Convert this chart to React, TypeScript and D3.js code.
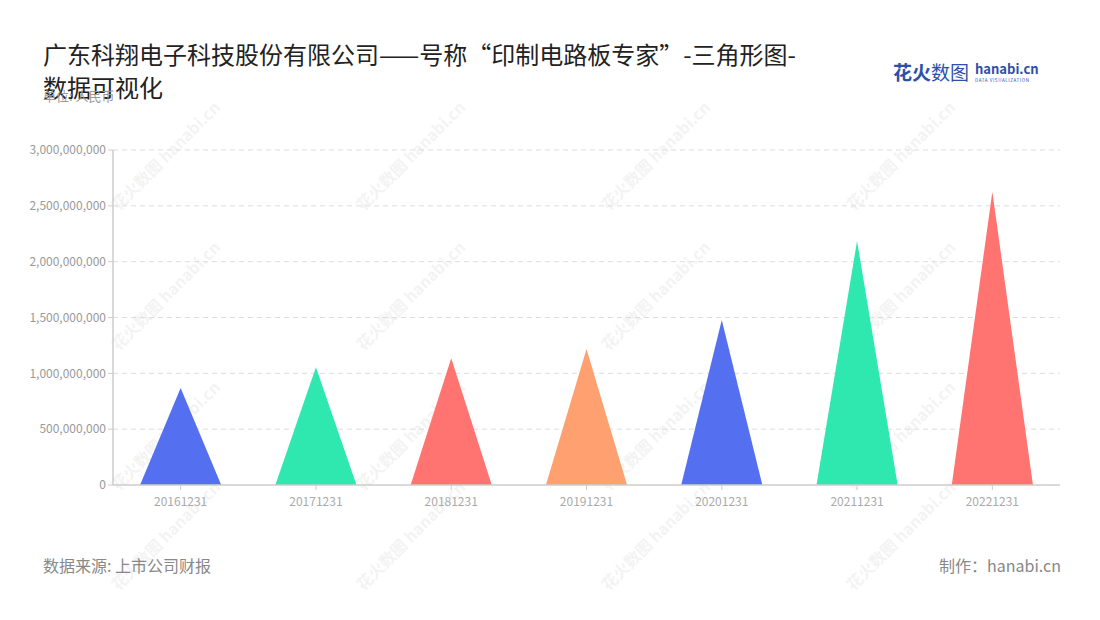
import React from "react";
import * as d3 from "d3";

const categories = ["20161231", "20171231", "20181231", "20191231", "20201231", "20211231", "20221231"];
const values = [869000000, 1054000000, 1135000000, 1218000000, 1478000000, 2185000000, 2627000000];
const colors = ["#5470f0", "#2ee8b0", "#ff7370", "#ffa070", "#5470f0", "#2ee8b0", "#ff7370"];
const yTicks = [0, 500000000, 1000000000, 1500000000, 2000000000, 2500000000, 3000000000];

const W = 1100, H = 620;
const left = 113, right = 1060, top = 150, bottom = 485;
const FONT = "'Noto Sans CJK SC', 'Noto Sans', sans-serif";

export default function App() {
  const x = d3.scaleBand<string>().domain(categories).range([left, right]).padding(0);
  const y = d3.scaleLinear().domain([0, 3000000000]).range([bottom, top]);
  const fmt = d3.format(",");
  const hw = x.bandwidth() * 0.3;

  const wmXs = [170, 415, 660, 905];
  const wmYs = [160, 300, 440, 540];

  return (
    <svg width={W} height={H} style={{ display: "block", position: "absolute", left: 0, top: 0 }} fontFamily={FONT}>
      <rect width={W} height={H} fill="#fff" />
      {/* watermarks */}
      {wmYs.map((wy, i) =>
        wmXs.map((wx, j) => (
          <g key={`wm${i}-${j}`} transform={`translate(${wx},${wy}) rotate(-45)`} opacity={0.045}>
            <text x={0} y={0} fontSize={16} fontWeight={700} fill="#000" textAnchor="middle">花火数图 hanabi.cn</text>
          </g>
        ))
      )}
      {/* title */}
      <text x={43} y={64} fontSize={24} fill="#222">广东科翔电子科技股份有限公司——号称“印制电路板专家”-三角形图-</text>
      <text x={43} y={97} fontSize={24} fill="#222">数据可视化</text>
      <text x={43} y={101} fontSize={13} fill="#999">单位: 人民币</text>
      {/* logo */}
      <text x={893} y={80} fontSize={19} fontWeight={700} fill="#2d4fa8">花火<tspan fontWeight={400}>数图</tspan></text>
      <text x={975} y={74} fontSize={13} fontWeight={700} fill="#2d4fa8">hanabi.cn</text>
      <text x={975} y={81.5} fontSize={4.5} fill="#2d4fa8" letterSpacing={0.6}>DATA VISUALIZATION</text>
      {/* grid */}
      {yTicks.map((t) => (
        <g key={t}>
          {t > 0 && (
            <line x1={left} x2={right} y1={y(t)} y2={y(t)} stroke="#ddd" strokeDasharray="5,4" />
          )}
          <line x1={left - 5} x2={left} y1={y(t)} y2={y(t)} stroke="#ccc" />
          <text x={left - 7} y={y(t)} dy="0.35em" fontSize={12} fill="#999" textAnchor="end">{fmt(t)}</text>
        </g>
      ))}
      {/* triangles */}
      {categories.map((c, i) => {
        const cx = (x(c) as number) + x.bandwidth() / 2;
        const p = d3.path();
        p.moveTo(cx - hw, y(0));
        p.lineTo(cx, y(values[i]));
        p.lineTo(cx + hw, y(0));
        p.closePath();
        return <path key={c} d={p.toString()} fill={colors[i]} />;
      })}
      {/* axes */}
      <line x1={left} x2={left} y1={top} y2={bottom} stroke="#ccc" strokeWidth={1.5} />
      <line x1={left} x2={right} y1={bottom} y2={bottom} stroke="#ccc" strokeWidth={1.5} />
      {categories.map((c) => {
        const cx = (x(c) as number) + x.bandwidth() / 2;
        return (
          <g key={c}>
            <line x1={cx} x2={cx} y1={bottom} y2={bottom + 5} stroke="#ccc" />
            <text x={cx} y={506} fontSize={12} fill="#aaa" textAnchor="middle">{c}</text>
          </g>
        );
      })}
      {/* footer */}
      <text x={43} y={572} fontSize={16} fill="#888">数据来源: 上市公司财报</text>
      <text x={1061} y={572} fontSize={16} fill="#888" textAnchor="end">制作：hanabi.cn</text>
    </svg>
  );
}
